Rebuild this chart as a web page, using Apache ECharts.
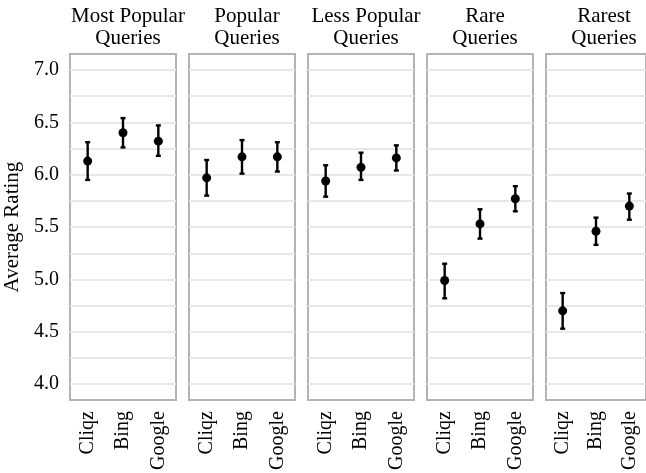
<!DOCTYPE html>
<html>
<head>
<meta charset="utf-8">
<script src="https://cdn.jsdelivr.net/npm/echarts@6/dist/echarts.min.js"></script>
<style>
  html, body { margin: 0; padding: 0; background: #fff; }
  #chart { width: 646px; height: 473px; }
</style>
</head>
<body>
<div id="chart"></div>
<script>
// panel titles and engines
const panelTitles = ["Most Popular\nQueries", "Popular\nQueries", "Less Popular\nQueries", "Rare\nQueries", "Rarest\nQueries"];
const engines = ["Cliqz", "Bing", "Google"];

// average rating per panel (Cliqz, Bing, Google)
const meanRating = [
  [6.13, 6.40, 6.32],
  [5.97, 6.17, 6.17],
  [5.94, 6.07, 6.16],
  [4.99, 5.53, 5.77],
  [4.70, 5.46, 5.70]
];
const lowerRating = [
  [5.95, 6.26, 6.18],
  [5.80, 6.01, 6.03],
  [5.79, 5.95, 6.04],
  [4.82, 5.39, 5.65],
  [4.53, 5.33, 5.57]
];
const upperRating = [
  [6.31, 6.54, 6.47],
  [6.14, 6.33, 6.31],
  [6.09, 6.21, 6.28],
  [5.15, 5.67, 5.89],
  [4.87, 5.59, 5.82]
];

const yLabels = [4.0, 4.5, 5.0, 5.5, 6.0, 6.5, 7.0];
const yGrid = [4.0, 4.25, 4.5, 4.75, 5.0, 5.25, 5.5, 5.75, 6.0, 6.25, 6.5, 6.75, 7.0];

const font = "Liberation Serif";
const panelLeft = 70, panelStep = 119, panelWidth = 106;

const grids = [], xAxes = [], yAxes = [], series = [], titles = [];

panelTitles.forEach(function (t, i) {
  const left = panelLeft + i * panelStep;
  grids.push({
    left: left, width: panelWidth, top: 54, bottom: 72,
    show: true, borderWidth: 2, borderColor: "#b3b3b3", backgroundColor: "#fff"
  });
  titles.push({
    text: t,
    left: left + panelWidth / 2,
    top: 0,
    textAlign: "center",
    textStyle: { fontFamily: font, fontSize: 21, fontWeight: "normal", color: "#000", lineHeight: 22 }
  });
  xAxes.push({
    type: "category", gridIndex: i, data: engines,
    axisLine: { show: false }, axisTick: { show: false },
    axisLabel: { rotate: 90, margin: 11, fontFamily: font, fontSize: 20, color: "#000" }
  });
  yAxes.push({
    type: "value", gridIndex: i, min: 3.848, max: 7.152,
    name: i === 0 ? "Average Rating" : "",
    nameLocation: "middle", nameGap: 47,
    nameTextStyle: { fontFamily: font, fontSize: 21, color: "#000" },
    axisLine: { show: false },
    axisTick: { show: false, customValues: yGrid },
    axisLabel: {
      show: i === 0, customValues: yLabels, margin: 11,
      fontFamily: font, fontSize: 20, color: "#000",
      formatter: function (v) { return v.toFixed(1); }
    },
    splitLine: { show: true, lineStyle: { color: "#e8e8e8", width: 2 } }
  });
  const bars = engines.map(function (e, j) { return [j, lowerRating[i][j], upperRating[i][j]]; });
  series.push({
    type: "custom", xAxisIndex: i, yAxisIndex: i, data: bars, z: 3,
    renderItem: function (params, api) {
      const lo = api.coord([api.value(0), api.value(1)]);
      const hi = api.coord([api.value(0), api.value(2)]);
      const cap = 2.5;
      const style = { stroke: "#000", lineWidth: 2.4 };
      return {
        type: "group",
        children: [
          { type: "line", shape: { x1: hi[0], y1: hi[1], x2: lo[0], y2: lo[1] }, style: style },
          { type: "line", shape: { x1: hi[0] - cap, y1: hi[1], x2: hi[0] + cap, y2: hi[1] }, style: style },
          { type: "line", shape: { x1: lo[0] - cap, y1: lo[1], x2: lo[0] + cap, y2: lo[1] }, style: style }
        ]
      };
    }
  });
  series.push({
    type: "scatter", xAxisIndex: i, yAxisIndex: i, z: 4,
    data: meanRating[i], symbolSize: 9,
    itemStyle: { color: "#000", opacity: 1 }
  });
});

const chart = echarts.init(document.getElementById("chart"));
chart.setOption({
  animation: false,
  title: titles,
  grid: grids,
  xAxis: xAxes,
  yAxis: yAxes,
  series: series
});
</script>
</body>
</html>
